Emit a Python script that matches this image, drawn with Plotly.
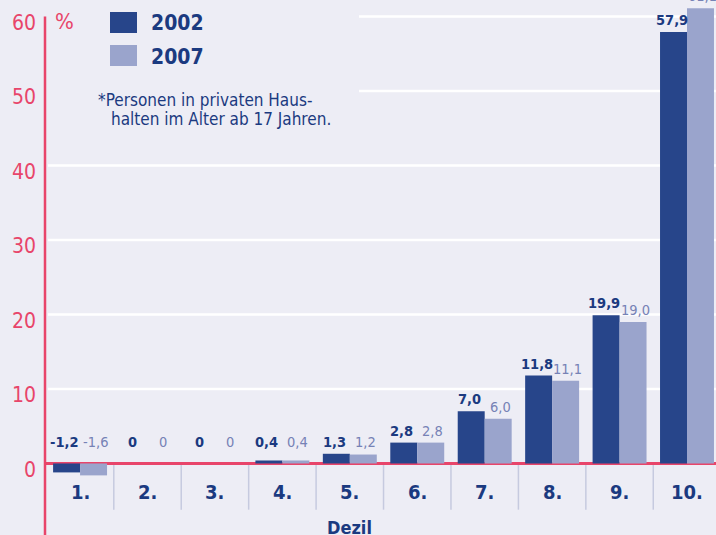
import plotly.graph_objects as go

# ---------------- data ----------------
deciles = ["1.", "2.", "3.", "4.", "5.", "6.", "7.", "8.", "9.", "10."]
values_2002 = [-1.2, 0, 0, 0.4, 1.3, 2.8, 7.0, 11.8, 19.9, 57.9]
values_2007 = [-1.6, 0, 0, 0.4, 1.2, 2.8, 6.0, 11.1, 19.0, 61.1]
series_names = ["2002", "2007"]
y_ticks = [0, 10, 20, 30, 40, 50, 60]
y_tick_labels = ["0", "10", "20", "30", "40", "50", "60"]
x_title = "Dezil"
unit_label = "%"
footnote_lines = ["*Personen in privaten Haus-", "halten im Alter ab 17 Jahren."]

# ---------------- style ----------------
W, H = 716, 535
ML = 45
Y_MIN, Y_MAX = -9.6, 62.2
X_MIN, X_MAX = -0.52, 9.43
BG = "#ededf5"
RED = "#e8456a"
NAVY = "#1b3a80"
C2002 = "#27458a"
C2007 = "#9aa4cc"
LBL2007 = "#7682b5"
SEP = "#c6cadf"
FONT = "DejaVu Sans Condensed, Open Sans, sans-serif"
LABEL_FLOOR = 1.3


def fmt(v):
    return "0" if v == 0 else f"{v:.1f}".replace(".", ",")


def pxx(px):
    return (px - ML) / (W - ML)


def pxy(py):
    return 1 - py / H


fig = go.Figure()
fig.add_trace(go.Bar(x=deciles, y=values_2002, name=series_names[0],
                     marker=dict(color=C2002, line=dict(width=0)), showlegend=False))
fig.add_trace(go.Bar(x=deciles, y=values_2007, name=series_names[1],
                     marker=dict(color=C2007, line=dict(width=0)), showlegend=False))

shapes = []
# grid lines
for t in y_ticks[1:]:
    x0 = pxx(359) if t >= 50 else pxx(48)
    shapes.append(dict(type="line", xref="paper", yref="y", x0=x0, x1=1, y0=t, y1=t,
                       line=dict(color="white", width=2.5), layer="below"))
# category separators
for i in range(len(deciles) - 1):
    shapes.append(dict(type="line", xref="x", yref="y", x0=i + 0.5, x1=i + 0.5,
                       y0=0, y1=-6.2, line=dict(color=SEP, width=1.5), layer="below"))
# red y axis line
shapes.append(dict(type="line", xref="paper", yref="y", x0=0, x1=0, y0=y_ticks[-1], y1=Y_MIN,
                   line=dict(color=RED, width=2.5)))
# legend squares
shapes.append(dict(type="rect", xref="paper", yref="paper", x0=pxx(110), x1=pxx(137),
                   y0=pxy(33), y1=pxy(12), fillcolor=C2002, line=dict(width=0)))
shapes.append(dict(type="rect", xref="paper", yref="paper", x0=pxx(110), x1=pxx(137),
                   y0=pxy(66), y1=pxy(45), fillcolor=C2007, line=dict(width=0)))

ann = []
for i, d in enumerate(deciles):
    v1, v2 = values_2002[i], values_2007[i]
    ann.append(dict(x=i, y=max(v1, LABEL_FLOOR), xref="x", yref="y", text=fmt(v1),
                    showarrow=False, xshift=-15.5, yshift=2, yanchor="bottom",
                    font=dict(family=FONT, size=14.5, color=NAVY, weight="bold")))
    ann.append(dict(x=i, y=max(v2, LABEL_FLOOR), xref="x", yref="y", text=fmt(v2),
                    showarrow=False, xshift=15.5, yshift=2, yanchor="bottom",
                    font=dict(family=FONT, size=14.5, color=LBL2007)))
    ann.append(dict(x=i, y=0, xref="x", yref="y", text=d, showarrow=False,
                    yshift=-29, yanchor="middle",
                    font=dict(family=FONT, size=20, color=NAVY, weight="bold")))

ann.append(dict(x=pxx(349), y=pxy(527), xref="paper", yref="paper", text=x_title,
                showarrow=False, yanchor="middle",
                font=dict(family=FONT, size=18, color=NAVY, weight="bold")))
ann.append(dict(x=pxx(53), y=pxy(21), xref="paper", yref="paper", text=unit_label,
                showarrow=False, xanchor="left", yanchor="middle",
                font=dict(family=FONT, size=22, color=RED)))
ann.append(dict(x=pxx(149), y=pxy(23), xref="paper", yref="paper", text=series_names[0],
                showarrow=False, xanchor="left", yanchor="middle",
                font=dict(family=FONT, size=21, color=NAVY, weight="bold")))
ann.append(dict(x=pxx(149), y=pxy(57), xref="paper", yref="paper", text=series_names[1],
                showarrow=False, xanchor="left", yanchor="middle",
                font=dict(family=FONT, size=21, color=NAVY, weight="bold")))
ann.append(dict(x=pxx(96), y=pxy(100), xref="paper", yref="paper", text=footnote_lines[0],
                showarrow=False, xanchor="left", yanchor="middle",
                font=dict(family=FONT, size=17, color=NAVY)))
ann.append(dict(x=pxx(109), y=pxy(119), xref="paper", yref="paper", text=footnote_lines[1],
                showarrow=False, xanchor="left", yanchor="middle",
                font=dict(family=FONT, size=17, color=NAVY)))

fig.update_layout(
    width=W, height=H,
    margin=dict(l=ML, r=0, t=0, b=0),
    paper_bgcolor=BG, plot_bgcolor=BG,
    barmode="group", bargap=0.2, bargroupgap=0,
    showlegend=False,
    shapes=shapes, annotations=ann,
    xaxis=dict(range=[X_MIN, X_MAX], showticklabels=False, showgrid=False,
               zeroline=False, showline=False, ticks=""),
    yaxis=dict(range=[Y_MIN, Y_MAX], tickvals=y_ticks, ticktext=y_tick_labels,
               showgrid=False, zeroline=True, zerolinecolor=RED, zerolinewidth=2.5,
               showline=False, ticks="", ticklabelstandoff=8, ticklabelshift=6,
               tickfont=dict(family=FONT, size=21, color=RED)),
)

fig.write_html("out.html", config={"displayModeBar": False},
               post_script="document.body.style.margin='0';")
